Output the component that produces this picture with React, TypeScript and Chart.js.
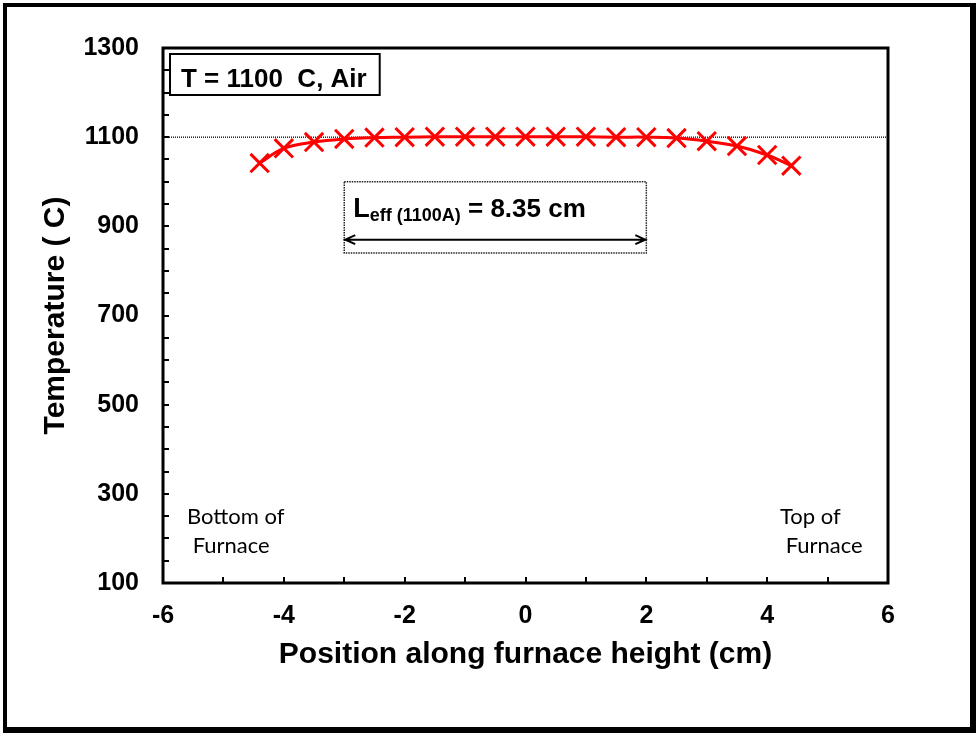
import { useEffect, useRef } from 'react';
import { Chart, registerables } from 'chart.js';

Chart.register(...registerables);

// ---- data ----
const POSITIONS = [-4.4, -4, -3.5, -3, -2.5, -2, -1.5, -1, -0.5, 0, 0.5, 1, 1.5, 2, 2.5, 3, 3.5, 4, 4.4];
const TEMPERATURES = [1042, 1075, 1089, 1096, 1099, 1100, 1101, 1101, 1101, 1101, 1101, 1101, 1100, 1100, 1098, 1091, 1080, 1060, 1036];
const SET_POINT = 1100;
const X_MIN = -6;
const X_MAX = 6;
const Y_MIN = 100;
const Y_MAX = 1300;
const X_TICK_STEP = 1;
const X_LABEL_STEP = 2;
const Y_TICK_STEP = 50;
const Y_LABEL_STEP = 200;
const LEFF_X = [-3, 2];
const LEFF_BOX_Y = [840, 1000];
const LEFF_ARROW_Y = 870;
const LEFF_TEXT_Y = 922;
const LEGEND_TEXT = 'T = 1100  C, Air';
const LEFF_MAIN = 'L';
const LEFF_SUB = 'eff (1100A)';
const LEFF_REST = ' = 8.35 cm';
const BOTTOM_LABEL = ['Bottom of', ' Furnace'];
const TOP_LABEL = ['Top of', ' Furnace'];
const X_TITLE = 'Position along furnace height (cm)';
const Y_TITLE = 'Temperature ( C)';

const SANS = '"Liberation Sans", Arial, sans-serif';
const SOFT = 'Lato, "Open Sans", sans-serif';

const decorPlugin = {
  id: 'decor',
  beforeDraw(chart: any) {
    const { ctx, width, height } = chart;
    ctx.save();
    ctx.fillStyle = '#fff';
    ctx.fillRect(0, 0, width, height);
    ctx.restore();
  },
  afterDraw(chart: any) {
    const { ctx, chartArea: ca, scales } = chart;
    const xs = scales.x;
    const ys = scales.y;
    ctx.save();

    // outer frame
    ctx.fillStyle = '#000';
    ctx.fillRect(3, 3, 973, 4);
    ctx.fillRect(3, 3, 4, 730);
    ctx.fillRect(970, 3, 6, 730);
    ctx.fillRect(3, 727, 973, 6);

    // inward tick marks
    ctx.strokeStyle = '#000';
    ctx.lineWidth = 2;
    ctx.beginPath();
    xs.ticks.forEach((t: any) => {
      const px = Math.round(xs.getPixelForValue(t.value));
      ctx.moveTo(px, ca.bottom);
      ctx.lineTo(px, ca.bottom - 6);
    });
    ys.ticks.forEach((t: any) => {
      const py = Math.round(ys.getPixelForValue(t.value));
      ctx.moveTo(ca.left, py);
      ctx.lineTo(ca.left + 6, py);
    });
    ctx.stroke();

    // plot border
    ctx.lineWidth = 3;
    ctx.strokeRect(ca.left, ca.top, ca.right - ca.left, ca.bottom - ca.top);

    // legend-style box
    ctx.font = `bold 26px ${SANS}`;
    ctx.textBaseline = 'alphabetic';
    ctx.textAlign = 'left';
    const lw = ctx.measureText(LEGEND_TEXT).width;
    const bx = ca.left + 7;
    const by = ca.top + 6;
    ctx.lineWidth = 2;
    ctx.strokeRect(bx, by, lw + 24, 41);
    ctx.fillStyle = '#000';
    ctx.fillText(LEGEND_TEXT, bx + 11, by + 33);

    // L_eff annotation box
    const x0 = xs.getPixelForValue(LEFF_X[0]);
    const x1 = xs.getPixelForValue(LEFF_X[1]);
    const yTop = ys.getPixelForValue(LEFF_BOX_Y[1]);
    const yBot = ys.getPixelForValue(LEFF_BOX_Y[0]);
    ctx.setLineDash([1.5, 1]);
    ctx.lineWidth = 1.5;
    ctx.strokeStyle = '#222';
    ctx.strokeRect(x0, yTop, x1 - x0, yBot - yTop);
    ctx.setLineDash([]);
    ctx.strokeStyle = '#000';

    const ty = ys.getPixelForValue(LEFF_TEXT_Y);
    let tx = x0 + 9;
    ctx.font = `bold 27px ${SANS}`;
    ctx.fillText(LEFF_MAIN, tx, ty);
    tx += ctx.measureText(LEFF_MAIN).width;
    ctx.font = `bold 18px ${SANS}`;
    ctx.fillText(LEFF_SUB, tx, ty + 4);
    tx += ctx.measureText(LEFF_SUB).width;
    ctx.font = `bold 26px ${SANS}`;
    ctx.fillText(LEFF_REST, tx, ty);

    // double arrow
    const ay = ys.getPixelForValue(LEFF_ARROW_Y);
    ctx.lineWidth = 2;
    ctx.beginPath();
    ctx.moveTo(x0 + 1, ay);
    ctx.lineTo(x1 - 1, ay);
    ctx.moveTo(x0 + 11, ay - 4.5);
    ctx.lineTo(x0 + 1, ay);
    ctx.lineTo(x0 + 11, ay + 4.5);
    ctx.moveTo(x1 - 11, ay - 4.5);
    ctx.lineTo(x1 - 1, ay);
    ctx.lineTo(x1 - 11, ay + 4.5);
    ctx.stroke();

    // corner labels
    ctx.font = `22px ${SOFT}`;
    ctx.fillStyle = '#000';
    ctx.fillText(BOTTOM_LABEL[0], ca.left + 24, ca.bottom - 59);
    ctx.fillText(BOTTOM_LABEL[1], ca.left + 24, ca.bottom - 30);
    ctx.fillText(TOP_LABEL[0], ca.right - 108, ca.bottom - 59);
    ctx.fillText(TOP_LABEL[1], ca.right - 108, ca.bottom - 30);

    ctx.restore();
  },
};

export default function App() {
  const canvasRef = useRef<HTMLCanvasElement | null>(null);

  useEffect(() => {
    if (!canvasRef.current) return;
    const chart = new Chart(canvasRef.current, {
      type: 'line',
      data: {
        datasets: [
          {
            label: 'Temperature',
            data: POSITIONS.map((p, i) => ({ x: p, y: TEMPERATURES[i] })),
            borderColor: '#ff0000',
            backgroundColor: '#ff0000',
            borderWidth: 3,
            tension: 0.4,
            pointStyle: 'crossRot',
            pointRadius: 13,
            pointBorderWidth: 3,
            pointBorderColor: '#ff0000',
            fill: false,
          },
          {
            label: 'Set point',
            data: [
              { x: X_MIN, y: SET_POINT },
              { x: X_MAX, y: SET_POINT },
            ],
            borderColor: '#000',
            borderWidth: 1.3,
            borderDash: [1, 1],
            pointRadius: 0,
            fill: false,
          },
        ],
      },
      options: {
        animation: false,
        responsive: false,
        devicePixelRatio: 1,
        layout: { padding: { top: 48, right: 92, left: 0, bottom: 0 } },
        plugins: {
          legend: { display: false },
          tooltip: { enabled: false },
        },
        scales: {
          x: {
            type: 'linear',
            min: X_MIN,
            max: X_MAX,
            grid: { display: false, drawTicks: false },
            border: { display: false },
            ticks: {
              stepSize: X_TICK_STEP,
              autoSkip: false,
              maxRotation: 0,
              padding: 18,
              color: '#000',
              font: { family: SANS, size: 25, weight: 'bold' },
              callback: (v: any) => (Number(v) % X_LABEL_STEP === 0 ? String(v) : ''),
            },
            title: {
              display: true,
              text: X_TITLE,
              color: '#000',
              font: { family: SANS, size: 30, weight: 'bold' },
              padding: { top: 0, bottom: 60 },
            },
            afterFit: (s: any) => {
              s.height = 150;
            },
          },
          y: {
            type: 'linear',
            min: Y_MIN,
            max: Y_MAX,
            grid: { display: false, drawTicks: false },
            border: { display: false },
            ticks: {
              stepSize: Y_TICK_STEP,
              autoSkip: false,
              padding: 24,
              color: '#000',
              font: { family: SANS, size: 25, weight: 'bold' },
              callback: (v: any) => ((Number(v) - Y_MIN) % Y_LABEL_STEP === 0 ? String(v) : ''),
            },
            title: {
              display: true,
              text: Y_TITLE,
              color: '#000',
              font: { family: SANS, size: 30, weight: 'bold' },
              padding: { top: 38, bottom: 0 },
            },
            afterFit: (s: any) => {
              s.width = 163;
            },
          },
        },
      },
      plugins: [decorPlugin],
    } as any);
    return () => chart.destroy();
  }, []);

  return (
    <div style={{ position: 'fixed', left: 0, top: 0, width: 980, height: 733 }}>
      <canvas ref={canvasRef} width={980} height={733} style={{ width: 980, height: 733 }} />
    </div>
  );
}
